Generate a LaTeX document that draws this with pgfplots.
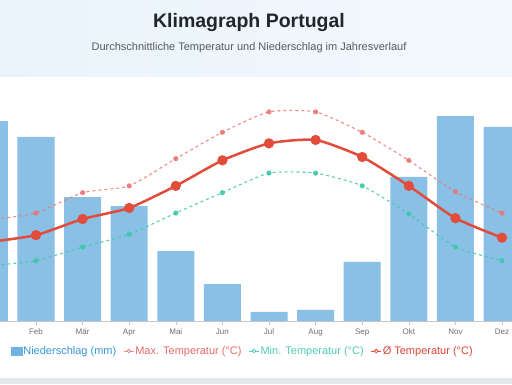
\documentclass[border=0pt]{standalone}
\usepackage{pgfplots}
\pgfplotsset{compat=1.18}
\usepackage{fontspec}
\setmainfont{Liberation Sans}
\definecolor{barblue}{RGB}{138,191,230}
\definecolor{hdrL}{RGB}{234,243,252}
\definecolor{hdrR}{RGB}{243,248,253}
\definecolor{bottomgrey}{RGB}{228,232,234}
\definecolor{titlecol}{RGB}{33,37,45}
\definecolor{subcol}{RGB}{85,90,100}
\definecolor{axisgrey}{RGB}{200,200,200}
\definecolor{tickgrey}{RGB}{110,110,110}
\definecolor{avgred}{RGB}{226,76,58}
\definecolor{maxred}{RGB}{238,118,118}
\definecolor{minteal}{RGB}{60,200,170}
\definecolor{legblue}{RGB}{52,152,219}
\definecolor{legmax}{RGB}{235,105,105}
\definecolor{legmin}{RGB}{80,205,180}
\definecolor{legavg}{RGB}{222,70,55}
\begin{document}
\begin{tikzpicture}
\useasboundingbox (0pt,0pt) rectangle (512pt,384pt);
\begin{scope}
\clip (0pt,0pt) rectangle (512pt,384pt);
\fill[white] (0pt,0pt) rectangle (512pt,384pt);
\shade[left color=hdrL,right color=hdrR] (0pt,308pt) rectangle (512pt,384pt);
\fill[bottomgrey] (0pt,0pt) rectangle (512pt,6pt);
\node[font=\fontsize{19.5}{22}\selectfont\bfseries,text=titlecol] at (249pt,361pt) {Klimagraph Portugal};
\node[font=\fontsize{11}{13}\selectfont,text=subcol] at (249pt,336.5pt) {Durchschnittliche Temperatur und Niederschlag im Jahresverlauf};
\begin{axis}[
  at={(-33.9pt,63pt)}, anchor=south west, scale only axis,
  width=559.2pt, height=221pt,
  xmin=-0.5, xmax=11.5, ymin=0, ymax=110,
  axis x line*=bottom, axis y line=none,
  xtick={0,...,11},
  xticklabels={Jan,Feb,Mär,Apr,Mai,Jun,Jul,Aug,Sep,Okt,Nov,Dez},
  x axis line style={draw=axisgrey, line width=0.8pt, -},
  tick style={draw=axisgrey, line width=0.6pt}, major tick length=4pt, tick align=outside,
  xticklabel style={font=\fontsize{8}{9}\selectfont, text=tickgrey},
  ytick=\empty,
]
\addplot[ybar, bar width=37pt, fill=barblue, draw=none] coordinates {
(0,99.5) (1,91.6) (2,61.7) (3,57.2) (4,34.8) (5,18.4) (6,4.5) (7,5.5) (8,29.4) (9,71.7) (10,102) (11,96.6)};
\end{axis}
\begin{axis}[
  at={(-33.9pt,63pt)}, anchor=south west, scale only axis,
  width=559.2pt, height=221pt,
  xmin=-0.5, xmax=11.5, ymin=1.7, ymax=27.7,
  hide axis,
  legend columns=4,
  legend style={at={(0.494,-0.136)}, anchor=center, draw=none, fill=none,
    font=\fontsize{11}{13}\selectfont, inner sep=0pt,
    nodes={inner sep=1pt},
    /tikz/every even column/.append style={column sep=6pt}},
  legend image code/.code={\draw[#1,solid,line width=1pt] (0pt,0pt) -- (10pt,0pt); \draw[#1,solid,fill=white,line width=0.8pt] (5pt,0pt) circle (1.8pt);},
]
\addlegendimage{legend image code/.code={\fill[barblue!70!legblue] (0pt,-4pt) rectangle (11pt,4pt);}}
\addlegendentry{\textcolor{legblue}{Niederschlag (mm)}}
\addplot[color=maxred, opacity=0.85, dashed, dash pattern=on 3pt off 3pt, line width=1.1pt, smooth, tension=0.35, mark=*, mark size=2pt, mark options={solid}] coordinates {
(0,13.6) (1,14.4) (2,16.8) (3,17.6) (4,20.8) (5,23.9) (6,26.3) (7,26.3) (8,23.9) (9,20.6) (10,16.9) (11,14.4)};
\addlegendentry{\textcolor{legmax}{Max. Temperatur (°C)}}
\addplot[color=minteal, opacity=0.85, dashed, dash pattern=on 3pt off 3pt, line width=1.1pt, smooth, tension=0.35, mark=*, mark size=2pt, mark options={solid}] coordinates {
(0,8.2) (1,8.8) (2,10.4) (3,11.9) (4,14.4) (5,16.8) (6,19.1) (7,19.1) (8,17.6) (9,14.3) (10,10.4) (11,8.8)};
\addlegendentry{\textcolor{legmin}{Min. Temperatur (°C)}}
\addplot[color=avgred, line width=2.5pt, smooth, tension=0.35, mark=*, mark size=3.8pt, mark options={fill=avgred}] coordinates {
(0,11.0) (1,11.8) (2,13.7) (3,15.0) (4,17.6) (5,20.6) (6,22.6) (7,23.0) (8,21.0) (9,17.6) (10,13.8) (11,11.5)};
\addlegendentry{\textcolor{legavg}{Ø Temperatur (°C)}}
\end{axis}
\end{scope}
\end{tikzpicture}
\end{document}
